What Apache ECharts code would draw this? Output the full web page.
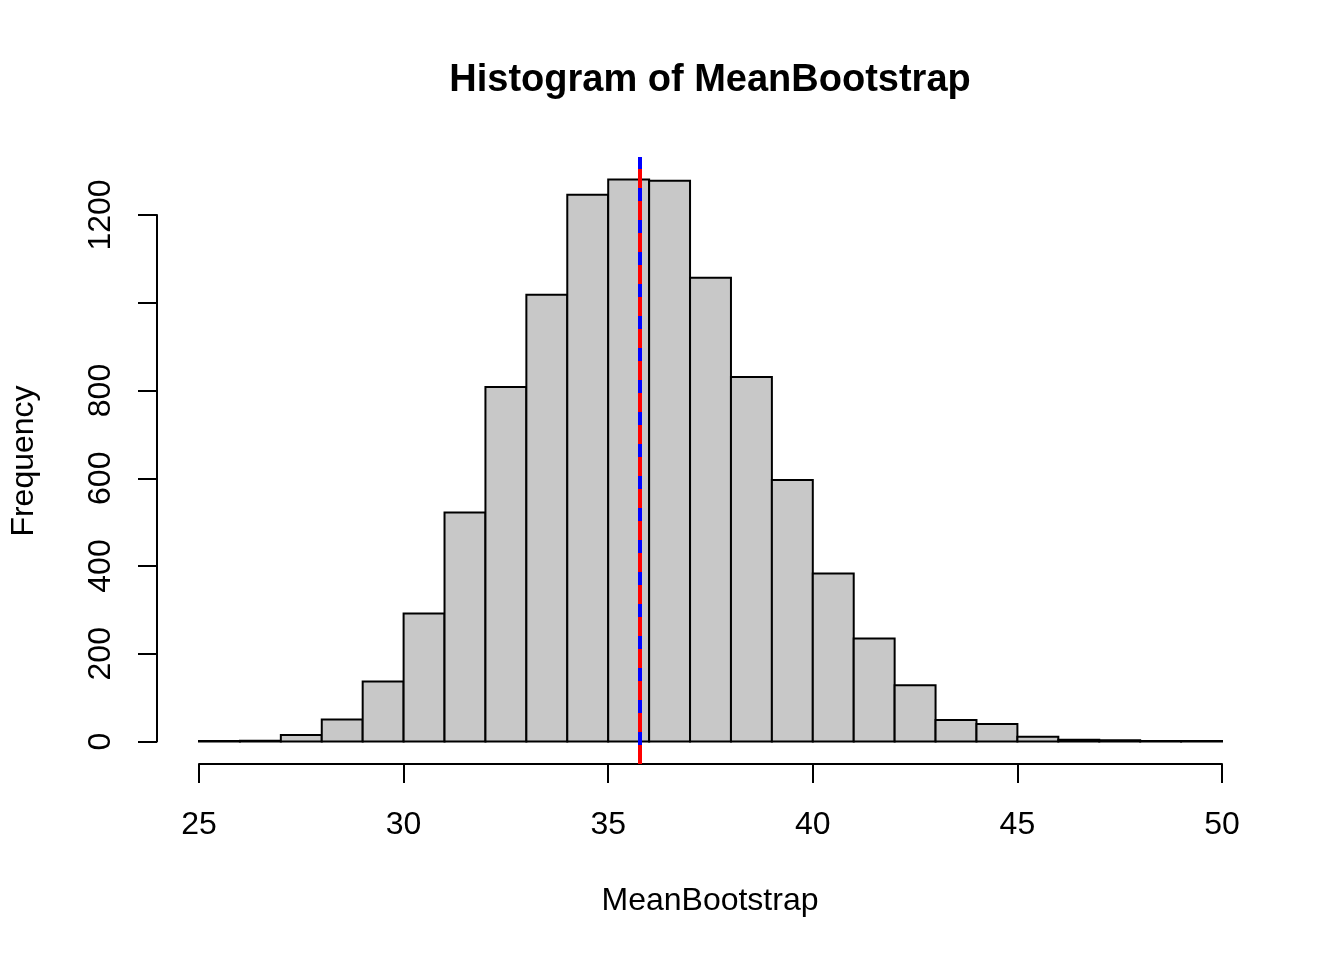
<!DOCTYPE html>
<html>
<head>
<meta charset="utf-8">
<title>Histogram of MeanBootstrap</title>
<script src="https://cdn.jsdelivr.net/npm/echarts@6/dist/echarts.min.js"></script>
<style>
  html, body { margin: 0; padding: 0; background: #fff; }
  #chart { width: 1344px; height: 960px; }
</style>
</head>
<body>
<div id="chart"></div>
<script>
// bin starts (width 1) and the counts
var binStarts = [25, 26, 27, 28, 29, 30, 31, 32, 33, 34, 35, 36, 37, 38, 39, 40, 41, 42, 43, 44, 45, 46, 47, 48, 49];
var binCounts = [1, 2, 15, 50, 137, 292, 522, 808, 1018, 1246, 1281, 1278, 1057, 831, 596, 383, 235, 128, 49, 40, 11, 4, 3, 1, 1];
var binWidth = 1;

var xTicks = [25, 30, 35, 40, 45, 50];
var yTicks = [0, 200, 400, 600, 800, 1000, 1200];
var yTickLabels = [0, 200, 400, 600, 800, 1200];   // 1000 is dropped in the original

var meanBlue = 35.78;
var meanRed = 35.78;

var FONT = '"Liberation Sans", Arial, Helvetica, sans-serif';

var chart = echarts.init(document.getElementById('chart'));

// build histogram rows [from, to, count]
var histData = [];
for (var i = 0; i < binStarts.length; i++) {
    histData.push([binStarts[i], binStarts[i] + binWidth, binCounts[i]]);
}

function renderBar(params, api) {
    var topLeft = api.coord([api.value(0), api.value(2)]);
    var botRight = api.coord([api.value(1), 0]);
    return {
        type: 'rect',
        shape: {
            x: topLeft[0],
            y: topLeft[1],
            width: botRight[0] - topLeft[0],
            height: botRight[1] - topLeft[1]
        },
        style: { fill: '#c8c8c8', stroke: '#000', lineWidth: 2 }
    };
}

var option = {
    animation: false,
    backgroundColor: '#fff',
    graphic: [
        {
            type: 'text', x: 710, y: 81,
            style: {
                text: 'Histogram of MeanBootstrap', align: 'center', verticalAlign: 'middle',
                fontSize: 38, fontWeight: 'bold', fontFamily: FONT, fill: '#000'
            }
        },
        {
            type: 'text', x: 710, y: 901,
            style: {
                text: 'MeanBootstrap', align: 'center', verticalAlign: 'middle',
                fontSize: 32, fontFamily: FONT, fill: '#000'
            }
        },
        {
            type: 'text', x: 24, y: 461, rotation: Math.PI / 2,
            style: {
                text: 'Frequency', align: 'center', verticalAlign: 'middle',
                fontSize: 32, fontFamily: FONT, fill: '#000'
            }
        }
    ],
    grid: [
        // plot region
        { left: 199, right: 122, top: 157, bottom: 196 },
        // grid that only carries the y axis (0..1200)
        { left: 157, width: 1, top: 215, bottom: 218.5 }
    ],
    xAxis: [
        {
            gridIndex: 0, type: 'value', min: 25, max: 50, interval: 5,
            axisLine: { show: true, onZero: false, lineStyle: { color: '#000', width: 2 } },
            axisTick: { show: true, length: 19, lineStyle: { color: '#000', width: 2 }, customValues: xTicks },
            axisLabel: { color: '#000', fontSize: 32, fontFamily: FONT, margin: 45, customValues: xTicks },
            splitLine: { show: false }
        },
        { gridIndex: 1, type: 'value', min: 0, max: 1, show: false }
    ],
    yAxis: [
        {
            gridIndex: 0, type: 'value', min: -51.2, max: 1332.2,
            axisLine: { show: false }, axisTick: { show: false },
            axisLabel: { show: false }, splitLine: { show: false }
        },
        {
            gridIndex: 1, type: 'value', min: 0, max: 1200, interval: 200, position: 'left',
            axisLine: { show: true, lineStyle: { color: '#000', width: 2 } },
            axisTick: { show: true, length: 19, lineStyle: { color: '#000', width: 2 }, customValues: yTicks },
            axisLabel: {
                color: '#000', fontSize: 32, fontFamily: FONT, rotate: 90, margin: 40,
                customValues: yTickLabels,
                formatter: function (v) { return String(v); }
            },
            splitLine: { show: false }
        }
    ],
    series: [
        {
            type: 'custom',
            xAxisIndex: 0, yAxisIndex: 0,
            renderItem: renderBar,
            encode: { x: [0, 1], y: 2 },
            data: histData,
            silent: true,
            markLine: {
                silent: true,
                symbol: 'none',
                label: { show: false },
                data: [
                    { xAxis: meanBlue, lineStyle: { color: '#0000ff', width: 4, type: 'solid' } },
                    { xAxis: meanRed, lineStyle: { color: '#ff0000', width: 4, type: [19, 13] } }
                ]
            }
        }
    ]
};

chart.setOption(option);
</script>
</body>
</html>
